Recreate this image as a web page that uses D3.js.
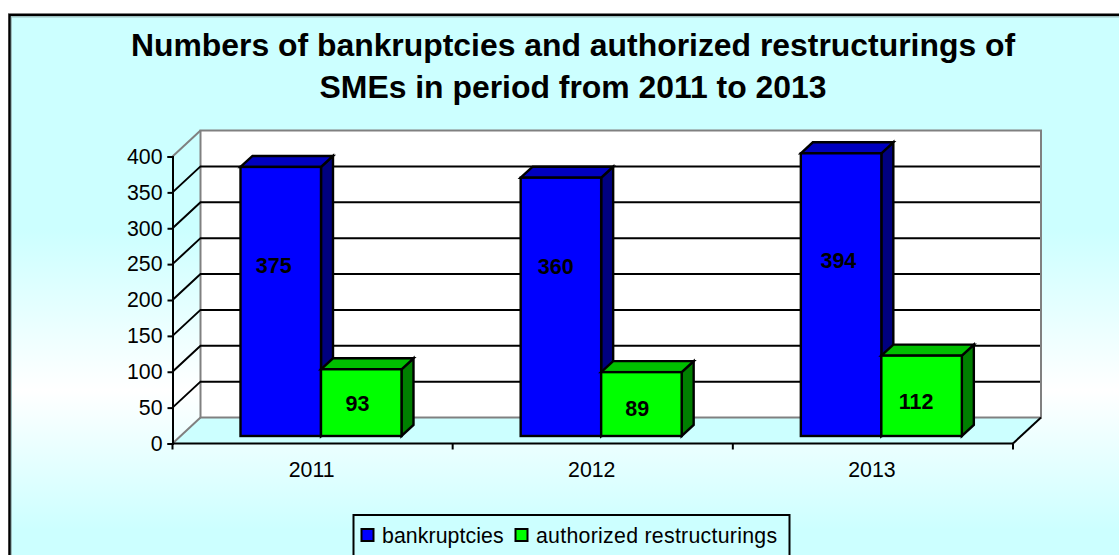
<!DOCTYPE html>
<html><head><meta charset="utf-8">
<script src="https://cdnjs.cloudflare.com/ajax/libs/d3/7.8.5/d3.min.js"></script>
<style>html,body{margin:0;padding:0;background:#fff}svg{display:block}text{font-family:"Liberation Sans",Arial,sans-serif;fill:#000}</style>
</head><body><svg id="c" width="1119" height="555"></svg>
<script>
const categories=["2011","2012","2013"];
const bankruptcies=[375,360,394];
const restructurings=[93,89,112];
const yTicks=[0,50,100,150,200,250,300,350,400];
const seriesNames=["bankruptcies","authorized restructurings"];
const titleLines=["Numbers of bankruptcies and authorized restructurings of","SMEs in period from 2011 to 2013"];
// manual data-label nudges seen in the picture (px)
const labelNudgeBlue=[[-7,-36.5],[-5.2,-41],[-2.7,-34.6]];
const labelNudgeGreen=[[-3.7,0.3],[-4.2,4],[-5.5,5]];

const svg=d3.select("#c");
const defs=svg.append("defs");
const g=defs.append("linearGradient").attr("id","bg").attr("gradientUnits","userSpaceOnUse").attr("x1",0).attr("x2",0).attr("y1",0).attr("y2",555);
[[0,"#ccffff"],[230/555,"#ccffff"],[390/555,"#ffffff"],[530/555,"#ccffff"],[1,"#ccffff"]].forEach(d=>g.append("stop").attr("offset",d[0]).attr("stop-color",d[1]));

svg.append("rect").attr("x",9.5).attr("y",15).attr("width",1120).attr("height",560).attr("fill","url(#bg)").attr("stroke","#000").attr("stroke-width",2.5);
svg.append("path").attr("d","M11.5,570V17H1119").attr("fill","none").attr("stroke","#9fbfbf").attr("stroke-width",1);
svg.append("path").attr("d","M8,13.5H1119").attr("fill","none").attr("stroke","#808080").attr("stroke-width",1);

const tl=svg.append("text").attr("text-anchor","middle").attr("font-weight","bold").attr("font-size",31.9);
titleLines.forEach((t,i)=>tl.append("tspan").attr("x",573).attr("y",56+i*42).text(t));

const x=d3.scaleBand().domain(categories).range([172.5,1013]);
const y=d3.scaleLinear().domain([0,400]).range([443.5,156.5]);
const DX=28,DY=26;
const barInset=68,barW=80.5,bdx=12,bdy=11,barBaseShift=7.5;
const poly=p=>"M"+p.map(a=>a.join(",")).join("L")+"Z";

// floor and walls
const gr="#808080";
svg.append("path").attr("d",poly([[172.5,443.5],[172.5+DX,443.5-DY],[1013+DX,443.5-DY],[1013,443.5]])).attr("fill","#ccffff");
svg.append("rect").attr("x",172.5+DX).attr("y",y(400)-DY).attr("width",840.5).attr("height",y(0)-y(400)).attr("fill","#fff").attr("stroke",gr).attr("stroke-width",2);
svg.append("path").attr("d",`M172.5,443.5L${172.5+DX},${443.5-DY}`).attr("stroke",gr).attr("stroke-width",2);
svg.append("path").attr("d",`M172.5,${y(400)}L${172.5+DX},${y(400)-DY}`).attr("stroke",gr).attr("stroke-width",2);
svg.append("path").attr("d",`M1013,443.5L${1013+DX},${443.5-DY}`).attr("stroke","#000").attr("stroke-width",2);

// gridlines
yTicks.slice(1,-1).forEach(t=>{
  svg.append("path").attr("fill","none").attr("stroke","#000").attr("stroke-width",2)
   .attr("d",`M172.5,${y(t)}L${172.5+DX},${y(t)-DY}H${1013+DX-1}`);
});

// bars
function bar(x0,v,col,top,side){
  const b=y(0)-barBaseShift, t=b-(y(0)-y(v)), x1=x0+barW;
  const gb=svg.append("g").attr("stroke","#000").attr("stroke-width",2.4).attr("stroke-linejoin","miter");
  gb.append("path").attr("d",poly([[x1,t],[x1+bdx,t-bdy],[x1+bdx,b-bdy],[x1,b]])).attr("fill",side);
  gb.append("path").attr("d",poly([[x0,t],[x0+bdx,t-bdy],[x1+bdx,t-bdy],[x1,t]])).attr("fill",top);
  gb.append("rect").attr("x",x0).attr("y",t).attr("width",barW).attr("height",b-t).attr("fill",col);
  return {t,b,x0,x1};
}
const lab=[];
categories.forEach((c,i)=>{
  const a=x(c)+barInset;
  const r1=bar(a,bankruptcies[i],"#0000ff","#0000bf","#00007f");
  const r2=bar(a+barW,restructurings[i],"#00ff00","#00bf00","#007f00");
  lab.push([r1,bankruptcies[i],labelNudgeBlue[i]],[r2,restructurings[i],labelNudgeGreen[i]]);
});
lab.forEach(([r,v,n])=>svg.append("text").attr("x",(r.x0+r.x1)/2+n[0]).attr("y",(r.t+r.b)/2+n[1]+7.7)
  .attr("text-anchor","middle").attr("font-weight","bold").attr("font-size",21.5).text(v));

// axes
const ya=svg.append("g").attr("transform","translate(172.5,0)").call(d3.axisLeft(y).tickValues(yTicks).tickSize(5).tickPadding(5));
const xa=svg.append("g").attr("transform","translate(-1,443.5)").call(d3.axisBottom(x).tickSize(0).tickPadding(18.5));
[ya,xa].forEach(a=>{a.selectAll("path,line").attr("stroke","#000").attr("stroke-width",2);
  a.selectAll("text").attr("font-size",21.3).attr("font-family","'Liberation Sans',Arial,sans-serif").attr("fill","#000");});
xa.selectAll(".domain").attr("d","M173.5,0H1014");
[...categories.map(c=>x(c)),1013].forEach(v=>svg.append("line").attr("x1",v).attr("x2",v).attr("y1",443.5).attr("y2",449.5).attr("stroke","#000").attr("stroke-width",2));

// legend
const lg=svg.append("g");
lg.append("rect").attr("x",353.5).attr("y",515).attr("width",436).attr("height",50).attr("fill","#ccffff").attr("stroke","#000").attr("stroke-width",2);
[[361.5,"#0000ff",382,seriesNames[0],0.08],[515.5,"#00ff00",536,seriesNames[1],0.28]].forEach(d=>{
  lg.append("rect").attr("x",d[0]).attr("y",529).attr("width",12).attr("height",12).attr("fill",d[1]).attr("stroke","#000").attr("stroke-width",2);
  lg.append("text").attr("x",d[2]).attr("y",543).attr("font-size",21.3).attr("letter-spacing",d[4]).text(d[3]);
});
</script></body></html>
